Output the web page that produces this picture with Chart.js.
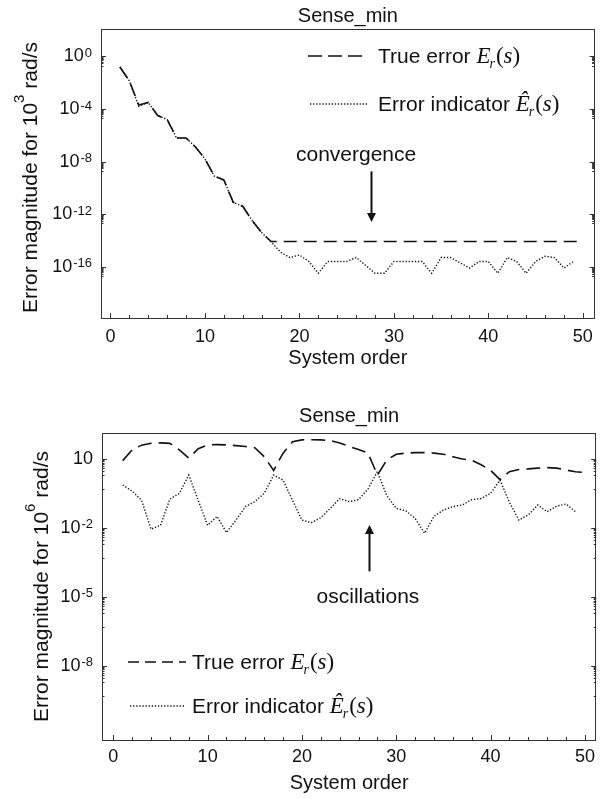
<!DOCTYPE html>
<html><head><meta charset="utf-8">
<script src="https://cdn.jsdelivr.net/npm/chart.js@4.4.1/dist/chart.umd.min.js"></script>
<style>
html,body{margin:0;padding:0;background:#fff;}
#wrap{position:relative;width:601px;height:799px;overflow:hidden;}
.box{position:absolute;left:0;width:601px;}
canvas{display:block;}
</style></head><body>
<div id="wrap">
<div class="box" style="top:0;height:398px"><canvas id="c1" width="601" height="398"></canvas></div>
<div class="box" style="top:398px;height:401px"><canvas id="c2" width="601" height="401"></canvas></div>
</div>
<script>
// ---------- DATA ----------
const TITLE = 'Sense_min';
const X_TITLE = 'System order';
const Y_TITLE_MAIN = 'Error magnitude for 10';
const Y_TITLE_UNIT = ' rad/s';
const TOP_Y_TITLE_EXP = '3';
const BOT_Y_TITLE_EXP = '6';
const SERIES_NAMES = ['True error', 'Error indicator'];

const ORDERS_TRUE = [1,2,3,4,5,6,7,8,9,10,11,12,13,14,15,16,17,18,19,20,21,22,23,24,25,26,27,28,29,30,31,32,33,34,35,36,37,38,39,40,41,42,43,44,45,46,47,48,49,50];
const ORDERS_IND  = [1,2,3,4,5,6,7,8,9,10,11,12,13,14,15,16,17,18,19,20,21,22,23,24,25,26,27,28,29,30,31,32,33,34,35,36,37,38,39,40,41,42,43,44,45,46,47,48,49];

// Top panel (10^3 rad/s)
const TOP_TRUE = [1.6e-1,1.4e-2,2.0e-4,3.2e-4,3.2e-5,1.6e-5,6.3e-7,6.3e-7,1.3e-7,1.6e-8,
  7.9e-10,4.0e-10,7.9e-12,4.0e-12,3.2e-13,4.0e-14,8.3e-15,8.3e-15,8.3e-15,8.3e-15,
  8.3e-15,8.3e-15,8.3e-15,8.3e-15,8.3e-15,8.3e-15,8.3e-15,8.3e-15,8.3e-15,8.3e-15,
  8.3e-15,8.3e-15,8.3e-15,8.3e-15,8.3e-15,8.3e-15,8.3e-15,8.3e-15,8.3e-15,8.3e-15,
  8.3e-15,8.3e-15,8.3e-15,8.3e-15,8.3e-15,8.3e-15,8.3e-15,8.3e-15,8.3e-15,8.3e-15];
const TOP_IND = [1.6e-1,1.4e-2,1.6e-4,3.2e-4,3.2e-5,1.6e-5,6.3e-7,6.3e-7,1.3e-7,1.6e-8,
  7.9e-10,4.0e-10,7.9e-12,4.0e-12,3.2e-13,4.0e-14,7.9e-15,1.3e-15,5.0e-16,7.9e-16,
  2.5e-16,3.2e-17,2.5e-16,2.5e-16,2.5e-16,5.0e-16,1.3e-16,3.2e-17,3.2e-17,2.5e-16,
  2.5e-16,2.5e-16,2.5e-16,3.2e-17,5.0e-16,5.0e-16,2.0e-16,7.9e-17,2.5e-16,2.5e-16,
  3.2e-17,5.0e-16,2.5e-16,3.2e-17,2.5e-16,6.3e-16,5.0e-16,7.9e-17,2.5e-16];

// Bottom panel (10^6 rad/s)
const BOT_TRUE = [8.5,25,40,48,50,48,25,11,28,41,
  42,41,38,35,31,12.6,3.2,18,56,68,
  69,68,63,50,35,26,18,2.0,9.1,16,
  18,19,19,18,16,12.6,10,8.9,5.6,3.2,
  1.26,2.8,3.5,3.7,4.0,4.2,4.0,3.3,2.8,2.6];
const BOT_IND = [0.74,0.40,0.16,0.0089,0.013,0.18,0.32,2.0,0.16,0.013,
  0.032,0.0063,0.022,0.085,0.14,0.32,2.0,1.2,0.16,0.022,
  0.017,0.028,0.071,0.19,0.14,0.17,0.50,2.8,0.25,0.071,
  0.056,0.026,0.0059,0.032,0.060,0.085,0.10,0.17,0.19,0.32,
  1.2,0.13,0.022,0.037,0.10,0.051,0.089,0.11,0.051];

const X_TICKS = [0,10,20,30,40,50];
const TOP_Y_TICKS = [1e0,1e-4,1e-8,1e-12,1e-16];
const BOT_Y_TICKS = [1e1,1e-2,1e-5,1e-8];

// ---------- RENDERING ----------
const FONT = "'Liberation Sans', Arial, sans-serif";
const SERIF = "'Liberation Serif', 'Times New Roman', serif";
const INK = '#111';
const SUP = {'0':'⁰','1':'¹','2':'²','3':'³','4':'⁴','5':'⁵','6':'⁶','7':'⁷','8':'⁸','9':'⁹','-':'⁻'};
function expOf(v){ return Math.round(Math.log10(v)); }
function fmtPow(v){
  const e = expOf(v);
  if (e === 1) return '10';
  return '10' + String(e).split('').map(c => SUP[c]).join('');
}

function drawMathLabel(ctx, x, base, label, hat){
  ctx.font = `21px ${FONT}`;
  const t = label + ' ';
  ctx.fillText(t, x, base); x += ctx.measureText(t).width;
  ctx.font = `italic 23px ${SERIF}`;
  const E = hat ? 'Ê' : 'E';
  ctx.fillText(E, x, base); x += ctx.measureText(E).width;
  ctx.font = `italic 14px ${SERIF}`;
  ctx.fillText('r', x - 1, base + 5); x += ctx.measureText('r').width;
  ctx.font = `23px ${SERIF}`;
  ctx.fillText('(', x, base); x += ctx.measureText('(').width;
  ctx.font = `italic 23px ${SERIF}`;
  ctx.fillText('s', x, base); x += ctx.measureText('s').width;
  ctx.font = `23px ${SERIF}`;
  ctx.fillText(')', x, base);
}

function makeDecor(cfg){
  return {
    id: 'decor',
    afterDraw(chart){
      const ctx = chart.ctx;
      const a = chart.chartArea;
      const xs = chart.scales.x, ys = chart.scales.y;
      ctx.save();
      // frame
      ctx.strokeStyle = '#333'; ctx.lineWidth = 1;
      ctx.strokeRect(Math.round(a.left)+0.5, Math.round(a.top)+0.5, Math.round(a.right-a.left)-1, Math.round(a.bottom-a.top));
      // x ticks (inward, bottom)
      ctx.beginPath();
      for (let v = 0; v <= 50; v += 2){
        const px = Math.round(xs.getPixelForValue(v)) + 0.5;
        const len = (v % 10 === 0) ? 5 : 3;
        ctx.moveTo(px, a.bottom); ctx.lineTo(px, a.bottom - len);
      }
      // y ticks (inward, left & right)
      for (const major of cfg.yTicks){
        const e = expOf(major);
        const list = [[major,5]];
        for (let m = 2; m <= 9; m++) list.push([m * Math.pow(10, e-1), 2.5]);
        if (cfg.extraMinor) list.push([5 * Math.pow(10, e-2), 2.5]);
        for (const [v,len] of list){
          const py = ys.getPixelForValue(v);
          if (py < a.top || py > a.bottom) continue;
          const y = Math.round(py) + 0.5;
          ctx.moveTo(a.left, y); ctx.lineTo(a.left + len, y);
          ctx.moveTo(a.right, y); ctx.lineTo(a.right - len, y);
        }
      }
      ctx.stroke();
      ctx.fillStyle = INK;
      // y tick labels: "10" with raised exponent
      ctx.textBaseline = 'middle'; ctx.textAlign = 'left';
      for (const t of ys.ticks){
        const py = ys.getPixelForValue(t.value);
        const e = expOf(t.value);
        const exp = (e === 1) ? '' : String(e);
        ctx.font = `13px ${FONT}`;
        const ew = exp ? ctx.measureText(exp).width + 1 : 0;
        ctx.font = `18px ${FONT}`;
        const bw = ctx.measureText('10').width;
        const xEnd = a.left - 9;
        ctx.fillText('10', xEnd - ew - bw, py);
        if (exp){
          ctx.font = `13px ${FONT}`;
          ctx.textBaseline = 'alphabetic';
          ctx.fillText(exp, xEnd - ew + 1, py + 0.5);
          ctx.textBaseline = 'middle';
        }
      }
      // y axis title (rotated, with raised exponent)
      ctx.save();
      ctx.translate(cfg.yTitleX, (a.top + a.bottom)/2 + cfg.yTitleShift);
      ctx.rotate(-Math.PI/2);
      ctx.textBaseline = 'alphabetic'; ctx.textAlign = 'left';
      ctx.font = `21px ${FONT}`;
      const w1 = ctx.measureText(Y_TITLE_MAIN).width, w3 = ctx.measureText(Y_TITLE_UNIT).width;
      ctx.font = `15px ${FONT}`;
      const w2 = ctx.measureText(cfg.yTitleExp).width;
      let tx = -(w1 + w2 + w3)/2;
      const bl = 7.5;
      ctx.font = `21px ${FONT}`;
      ctx.fillText(Y_TITLE_MAIN, tx, bl); tx += w1;
      ctx.font = `15px ${FONT}`;
      ctx.fillText(cfg.yTitleExp, tx, bl - 13); tx += w2;
      ctx.font = `21px ${FONT}`;
      ctx.fillText(Y_TITLE_UNIT, tx, bl);
      ctx.restore();
      // title
      ctx.textAlign = 'center'; ctx.textBaseline = 'middle';
      ctx.font = `20px ${FONT}`;
      ctx.fillText(TITLE, (a.left + a.right)/2, a.top - cfg.titleGap);
      // legend
      ctx.textAlign = 'left'; ctx.textBaseline = 'alphabetic';
      cfg.legend.forEach((row, i) => {
        ctx.save();
        ctx.strokeStyle = INK; ctx.lineWidth = row.lw; ctx.setLineDash(row.dash);
        ctx.beginPath(); ctx.moveTo(row.x1, row.y); ctx.lineTo(row.x2, row.y); ctx.stroke();
        ctx.restore();
        ctx.fillStyle = INK;
        drawMathLabel(ctx, row.tx, row.y + 7, SERIES_NAMES[i], i === 1);
      });
      // annotation
      const n = cfg.note;
      ctx.textAlign = 'center'; ctx.textBaseline = 'middle';
      ctx.font = `21px ${FONT}`;
      ctx.fillText(n.text, xs.getPixelForValue(n.x), ys.getPixelForValue(n.y));
      const ax = Math.round(xs.getPixelForValue(n.ax)) + 0.5;
      const y0 = ys.getPixelForValue(n.from), y1 = ys.getPixelForValue(n.to);
      const dir = Math.sign(y1 - y0);
      ctx.strokeStyle = INK; ctx.lineWidth = 2;
      ctx.beginPath(); ctx.moveTo(ax, y0); ctx.lineTo(ax, y1 - dir*8); ctx.stroke();
      ctx.beginPath(); ctx.moveTo(ax, y1); ctx.lineTo(ax - 4.5, y1 - dir*9); ctx.lineTo(ax + 4.5, y1 - dir*9); ctx.closePath(); ctx.fill();
      ctx.restore();
    }
  };
}

function makeChart(id, cfg){
  const area = cfg.area;
  return new Chart(document.getElementById(id), {
    type: 'line',
    data: { datasets: [
      { label: SERIES_NAMES[0], data: ORDERS_TRUE.map((x,i) => ({x, y: cfg.trueVals[i]})),
        borderColor: INK, borderWidth: 1.6, borderDash: cfg.dash, pointRadius: 0, fill: false, tension: 0 },
      { label: SERIES_NAMES[1], data: ORDERS_IND.map((x,i) => ({x, y: cfg.indVals[i]})),
        borderColor: INK, borderWidth: 1.4, borderDash: [1.3,1.8], pointRadius: 0, fill: false, tension: 0 }
    ]},
    options: {
      responsive: false, animation: false, maintainAspectRatio: false,
      layout: { padding: { left: 0, top: area.top, right: 601 - area.right, bottom: 0 } },
      plugins: { legend: { display: false }, tooltip: { enabled: false } },
      scales: {
        x: {
          type: 'linear', min: cfg.xMin, max: cfg.xMax,
          grid: { display: false, drawTicks: false }, border: { display: false },
          afterBuildTicks: s => { s.ticks = X_TICKS.map(v => ({value: v})); },
          afterFit: s => { s.height = cfg.canvasH - area.bottom; },
          ticks: { padding: cfg.xTickPad, color: INK, font: { family: FONT, size: 18 }, maxRotation: 0, autoSkip: false },
          title: { display: true, text: X_TITLE, color: INK, font: { family: FONT, size: 20 }, padding: { top: 0, bottom: cfg.xTitlePad } }
        },
        y: {
          type: 'logarithmic', min: cfg.yMin, max: cfg.yMax,
          grid: { display: false, drawTicks: false }, border: { display: false },
          afterBuildTicks: s => { s.ticks = cfg.yTicks.map(v => ({value: v})); },
          afterFit: s => { s.width = area.left; },
          ticks: { display: false, callback: v => fmtPow(v) },
          title: { display: false }
        }
      }
    },
    plugins: [makeDecor(cfg)]
  });
}

makeChart('c1', {
  trueVals: TOP_TRUE, indVals: TOP_IND, dash: [13,7],
  xMin: -1.0, xMax: 51.25, yMin: 1.26e-20, yMax: 123,
  yTicks: TOP_Y_TICKS, yTitleExp: TOP_Y_TITLE_EXP, extraMinor: false,
  area: { left: 101, right: 595, top: 29, bottom: 318 }, canvasH: 398,
  xTickPad: 8, xTitlePad: 28, yTitleX: 29, yTitleShift: 4, titleGap: 13,
  legend: [
    { x1: 308, x2: 362, y: 56, dash: [14,6], lw: 1.6, tx: 378 },
    { x1: 310, x2: 367, y: 104, dash: [1.3,1.8], lw: 1.4, tx: 378 }
  ],
  note: { text: 'convergence', x: 26, y: 3.2e-8, ax: 27.6, from: 1.8e-9, to: 2.5e-13 }
});

makeChart('c2', {
  trueVals: BOT_TRUE, indVals: BOT_IND, dash: [14,7],
  xMin: -1.2, xMax: 51.2, yMin: 6.0e-12, yMax: 135,
  yTicks: BOT_Y_TICKS, yTitleExp: BOT_Y_TITLE_EXP, extraMinor: true,
  area: { left: 102, right: 597, top: 35, bottom: 342 }, canvasH: 401,
  xTickPad: 6, xTitlePad: 4, yTitleX: 40, yTitleShift: 0, titleGap: 17,
  legend: [
    { x1: 128, x2: 186, y: 264, dash: [11,6], lw: 1.6, tx: 192 },
    { x1: 130, x2: 185, y: 308, dash: [1.3,1.8], lw: 1.4, tx: 192 }
  ],
  note: { text: 'oscillations', x: 27, y: 1e-5, ax: 27.1, from: 1.3e-4, to: 1.35e-2 }
});
</script>
</body></html>
